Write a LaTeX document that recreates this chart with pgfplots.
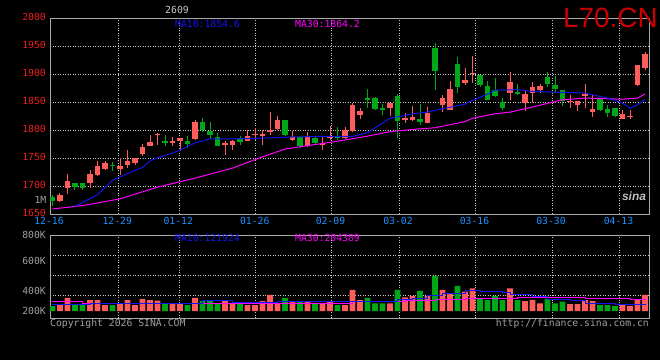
\documentclass[border=0pt]{standalone}
\usepackage{fontspec}
\setmainfont{Liberation Sans}
\setmonofont{DejaVu Sans Mono}
\usepackage{pgfplots}
\pgfplotsset{compat=1.18}
\usepackage{pgfplotstable}
\definecolor{cred}{RGB}{255,92,92}
\definecolor{cgreen}{RGB}{0,168,24}
\definecolor{pricered}{RGB}{235,30,30}
\definecolor{datecol}{RGB}{30,144,255}
\definecolor{gridc}{RGB}{200,200,200}
\definecolor{framec}{RGB}{170,170,170}
\definecolor{ma10c}{RGB}{20,20,240}
\definecolor{ma30c}{RGB}{255,0,255}
\definecolor{logored}{RGB}{200,0,0}
\definecolor{greytxt}{RGB}{160,160,160}
\newcommand\lbl{\ttfamily\fontsize{9.8}{11}\selectfont}

\pgfplotstableread{
i o h l c v
1 1672.5 1688.0 1670.7 1684.5 108
2 1695.7 1722.0 1685.0 1709.5 234
5 1705.4 1729.1 1697.0 1722.0 198
6 1720.2 1745.2 1718.4 1736.3 198
7 1730.9 1743.9 1727.9 1741.6 108
9 1730.4 1749.3 1720.2 1736.3 139
10 1738.0 1764.8 1732.2 1745.2 198
11 1741.1 1750.5 1738.0 1750.5 108
12 1757.7 1775.5 1752.9 1770.2 216
13 1770.7 1791.6 1770.7 1779.1 198
14 1791.1 1794.6 1773.8 1792.9 185
16 1776.8 1787.5 1772.0 1779.6 139
17 1780.9 1785.0 1763.0 1785.0 139
19 1783.9 1818.4 1781.4 1814.8 234
23 1773.8 1779.6 1755.9 1776.8 198
24 1773.2 1781.4 1764.8 1780.9 139
26 1780.9 1799.3 1780.9 1789.8 108
27 1790.4 1803.6 1782.7 1792.2 108
28 1788.6 1800.0 1773.8 1792.2 180
29 1795.7 1831.4 1791.6 1800.5 288
30 1801.8 1824.3 1800.5 1818.4 139
32 1782.7 1797.5 1779.6 1786.8 180
34 1772.0 1797.0 1769.6 1788.6 162
36 1773.8 1787.5 1764.8 1776.8 139
37 1785.0 1807.7 1782.7 1788.6 180
39 1785.7 1805.4 1783.9 1799.3 108
40 1797.5 1848.2 1795.7 1845.2 378
41 1827.3 1839.3 1820.2 1834.5 198
45 1839.3 1848.2 1825.5 1848.2 139
47 1818.4 1830.4 1812.5 1821.4 247
48 1818.4 1843.4 1815.4 1823.2 270
50 1812.5 1840.4 1812.5 1830.4 270
52 1845.2 1863.0 1831.4 1857.1 378
53 1836.3 1886.8 1835.0 1873.2 319
55 1883.9 1910.7 1879.6 1889.8 347
56 1899.3 1932.7 1883.9 1901.8 409
61 1866.1 1903.6 1852.9 1885.7 409
63 1848.2 1872.0 1833.2 1864.3 180
64 1866.1 1885.7 1848.2 1876.8 198
65 1872.0 1882.7 1866.1 1879.1 139
69 1850.0 1863.0 1839.3 1852.3 126
70 1845.2 1852.3 1833.2 1852.3 126
71 1860.0 1882.7 1839.3 1864.8 198
72 1832.7 1861.8 1823.2 1838.0 180
76 1820.2 1835.0 1820.2 1829.1 108
77 1822.5 1836.3 1820.2 1825.5 90
78 1880.9 1916.6 1879.1 1916.6 198
79 1910.0 1939.3 1906.4 1936.3 288
}\redtab

\pgfplotstableread{
i o h l c v
0 1679.6 1683.2 1664.8 1672.5 90
3 1705.9 1705.9 1692.2 1697.5 108
4 1705.9 1705.9 1693.4 1697.0 108
8 1738.0 1743.4 1727.3 1735.0 108
15 1780.9 1791.1 1772.0 1776.1 139
18 1779.6 1789.8 1767.9 1775.0 108
20 1814.8 1822.0 1795.7 1800.5 180
21 1798.8 1814.8 1784.5 1791.6 180
22 1788.0 1795.2 1770.7 1772.0 139
25 1783.9 1789.8 1773.8 1777.9 139
31 1818.4 1818.4 1788.6 1791.6 234
33 1786.8 1789.8 1767.9 1770.7 180
35 1785.0 1788.6 1773.8 1776.8 139
38 1789.3 1804.6 1781.4 1785.7 108
42 1857.1 1873.2 1839.3 1854.1 234
43 1857.1 1858.9 1835.0 1837.5 139
44 1839.3 1846.4 1827.3 1836.3 139
46 1861.3 1864.8 1785.0 1816.6 378
49 1820.2 1846.4 1809.5 1813.6 360
51 1946.4 1955.4 1870.7 1904.6 630
54 1918.4 1930.4 1866.1 1876.1 450
57 1898.8 1898.8 1876.8 1880.9 216
58 1877.9 1886.8 1854.1 1854.1 198
59 1872.0 1892.9 1858.9 1860.0 270
60 1849.3 1857.1 1836.3 1839.8 198
62 1867.1 1882.1 1862.5 1863.6 198
66 1895.2 1903.6 1877.3 1881.4 216
67 1880.9 1895.7 1866.1 1873.8 139
68 1870.7 1872.0 1842.1 1852.3 167
73 1857.1 1857.1 1833.2 1836.3 108
74 1838.0 1843.9 1823.8 1829.6 108
75 1839.3 1839.3 1823.2 1824.3 90
}\greentab

\pgfplotsset{
  sinaaxis/.style={
    scale only axis, width=599bp,
    xmin=-0.333, xmax=79.53,
    axis line style={draw=framec, line width=0.8bp},
    major tick length=0pt, minor tick length=0pt,
    grid style={draw=gridc, line width=0.7bp, dash pattern=on 1bp off 1.5bp},
    xtick={-0.333,8.77,16.9,27.1,37.2,46.2,56.4,66.6,75.6},
    xmajorgrids,
    yticklabel style={font=\lbl, inner sep=0pt, anchor=east, xshift=-4bp},
  },
}

\begin{document}
\begin{tikzpicture}
\fill[black] (0,0) rectangle (660bp,360bp);
\useasboundingbox (0,0) rectangle (660bp,360bp);

% price panel
\begin{axis}[sinaaxis,
  at={(50bp,146bp)}, anchor=south west, height=196bp,
  ymin=1650, ymax=2000,
  ytick={1650,1700,1750,1800,1850,1900,1950,2000},
  yticklabels={1650,1700,1750,1800,1850,1900,1950,2000},
  yticklabel style={text=pricered, yshift=1.5bp},
  ymajorgrids,
  xticklabels={12-16,12-29,01-12,01-26,02-09,03-02,03-16,03-30,04-13},
  xticklabel style={font=\lbl, text=datecol, inner sep=0pt, anchor=center, yshift=-7bp, xshift=-1bp},
]
% wicks
\addplot[cred, line width=1bp, forget plot, quiver={u=0, v=\thisrow{h}-\thisrow{l}}] table[x=i, y=l] {\redtab};
\addplot[cgreen, line width=1bp, forget plot, quiver={u=0, v=\thisrow{h}-\thisrow{l}}] table[x=i, y=l] {\greentab};
% bodies
\addplot[cred, line width=5.5bp, forget plot, quiver={u=0, v=\thisrow{c}-\thisrow{o}}] table[x=i, y=o] {\redtab};
\addplot[cgreen, line width=5.5bp, forget plot, quiver={u=0, v=\thisrow{c}-\thisrow{o}}] table[x=i, y=o] {\greentab};
% MA30
\addplot[ma30c, line width=1bp, mark=none] coordinates {
(0,1659) (4,1665) (9,1677) (14,1698) (19,1714) (24,1732) (28,1752) (31,1766)
(34,1772) (38,1780) (42,1789) (45,1797) (48,1801) (51,1804) (55,1815) (56,1821)
(59,1829) (61,1832) (64,1841) (68,1854) (71,1857) (76,1855) (78,1857) (79,1864.2)};
% MA10
\addplot[ma10c, line width=1bp, mark=none] coordinates {
(3,1663.6) (6,1684.5) (8,1710) (11,1728) (12,1733) (13,1745) (14,1750) (16,1759)
(17,1764) (19,1777) (21,1784) (26,1784.5) (29,1786) (32,1787.5) (36,1788.6) (40,1788.6)
(42,1795) (43,1804) (45,1821) (48,1829) (50,1832) (52,1838) (55,1846) (56,1853)
(58,1864) (59,1871) (62,1872) (64,1869) (66,1868) (71,1866) (72,1863) (74,1857)
(76,1848) (77,1839) (78,1845) (79,1854.6)};
\end{axis}

% volume panel
\begin{axis}[sinaaxis,
  at={(50bp,42bp)}, anchor=south west, height=83bp,
  ymin=-126, ymax=1368,
  ytick={5,365,900,1368},
  yticklabels={200K,400K,600K,800K},
  yticklabel style={text=greytxt},
  minor ytick={275,643,1003},
  yminorgrids,
  xticklabels={},
]
\addplot[ybar, bar width=5.7bp, bar shift=0pt, fill=cred, draw=none] table[x=i, y=v] {\redtab};
\addplot[ybar, bar width=5.7bp, bar shift=0pt, fill=cgreen, draw=none] table[x=i, y=v] {\greentab};
\addplot[ma30c, line width=1bp, mark=none, const plot] coordinates {
(0,162) (4,139) (40,162) (47,185) (51,198) (55,229) (62,247) (71,229) (77,210) (79,204.4)};
\addplot[ma10c, line width=1bp, mark=none, const plot] coordinates {
(0,121) (5,126) (15,139) (20,180) (24,157) (30,162) (46,198) (48,229) (50,270)
(52,306) (55,365) (57,342) (60,329) (61,301) (64,257) (66,198) (69,180) (71,139)
(75,108) (77,121) (79,121.9)};
\end{axis}

% texts
\node[font=\lbl, text={rgb,255:red,200;green,200;blue,200}, inner sep=0pt] at (177bp,350bp) {2609};
\node[font=\lbl, text=ma10c, inner sep=0pt, anchor=west] at (175bp,336.5bp) {MA10:1854.6};
\node[font=\lbl, text=ma30c, inner sep=0pt, anchor=west] at (295bp,336.5bp) {MA30:1864.2};
\node[font=\fontsize{28}{30}\selectfont, text=logored, inner sep=0pt, anchor=base west] at (563bp,332.7bp) {L70.CN};
\node[font=\lbl, text=ma10c, inner sep=0pt, anchor=west] at (175bp,121.7bp) {MA10:121924};
\node[font=\lbl, text=ma30c, inner sep=0pt, anchor=west] at (295bp,121.7bp) {MA30:204389};
\node[font=\lbl, text=greytxt, inner sep=0pt, anchor=east] at (46.5bp,160bp) {1M};
\node[font=\lbl, text=greytxt, inner sep=0pt, anchor=west] at (50bp,36bp) {Copyright 2026 SINA.COM};
\node[font=\lbl, text=greytxt, inner sep=0pt, anchor=east] at (649bp,36bp) {http://finance.sina.com.cn};
\node[font=\bfseries\itshape\fontsize{12}{12}\selectfont, text={rgb,255:red,190;green,190;blue,190}, inner sep=0pt] at (634bp,164bp) {sina};
\end{tikzpicture}
\end{document}
